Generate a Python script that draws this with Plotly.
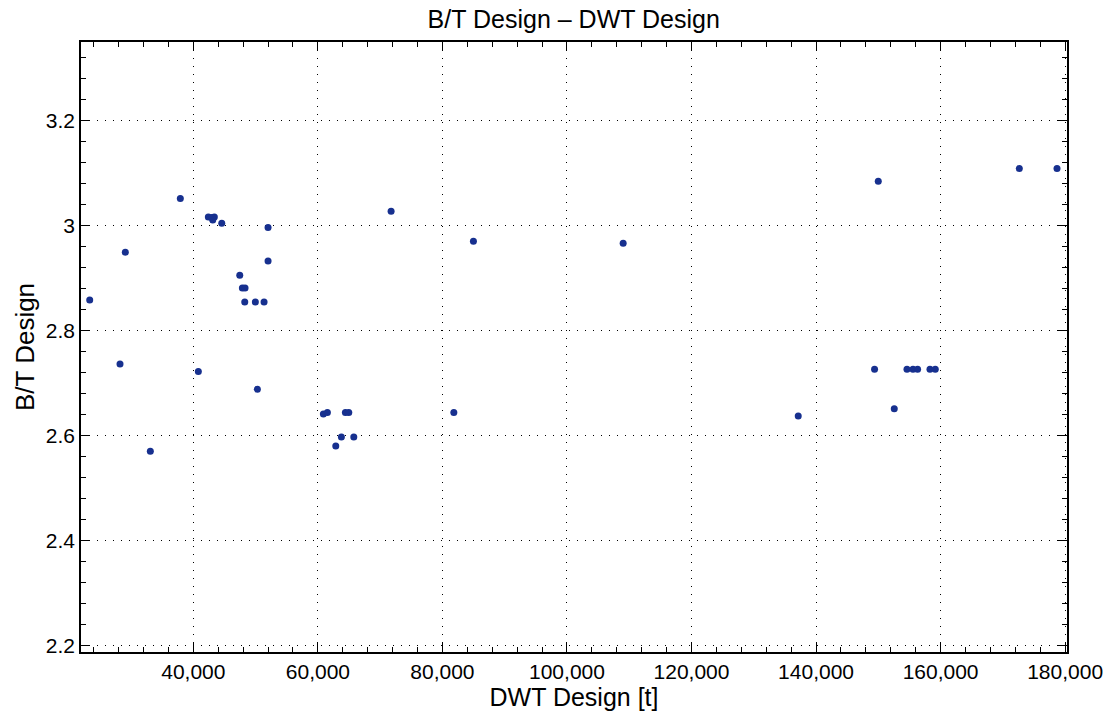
import plotly.graph_objects as go

dwt = [23358, 29077, 37912, 42410, 43373, 43117, 42956, 44562, 52000, 52000,
       47454, 47872, 48305, 48257, 49960, 51358,
       28225, 40803, 50281, 33093,
       60883, 61526, 64417, 64963, 63775, 65767, 62875, 81831,
       71759, 84979, 109026,
       149990, 137140, 149397, 154602, 155566, 156305, 158296, 159147, 152560,
       172641, 178697]
bt = [2.858, 2.949, 3.051, 3.016, 3.016, 3.010, 3.015, 3.004, 2.996, 2.932,
      2.905, 2.881, 2.881, 2.854, 2.854, 2.854,
      2.736, 2.722, 2.688, 2.570,
      2.641, 2.644, 2.644, 2.644, 2.597, 2.597, 2.580, 2.644,
      3.027, 2.970, 2.966,
      3.084, 2.637, 2.726, 2.726, 2.726, 2.726, 2.726, 2.726, 2.651,
      3.108, 3.108]

x_ticks = [40000, 60000, 80000, 100000, 120000, 140000, 160000, 180000]
y_ticks = [2.2, 2.4, 2.6, 2.8, 3.0, 3.2]

font = "Liberation Sans, Arial, Helvetica, sans-serif"

fig = go.Figure(go.Scatter(
    x=dwt, y=bt, mode="markers",
    marker=dict(color="#17308f", size=7, line=dict(width=0)),
    showlegend=False,
))

axis_common = dict(
    showline=True, linecolor="black", linewidth=1.5, mirror="allticks",
    ticks="inside", ticklen=9, tickwidth=1, tickcolor="black",
    showgrid=True, gridcolor="black", gridwidth=1, griddash="1px,7px",
    zeroline=False,
    tickfont=dict(family=font, size=21, color="black"),
)

fig.update_xaxes(
    **axis_common,
    range=[21960, 180300],
    tickvals=x_ticks, tickformat=",",
    minor=dict(ticks="inside", dtick=4000, tick0=0, ticklen=5, tickcolor="black", showgrid=False),
    title=dict(text="DWT Design [t]", font=dict(family=font, size=25, color="black"), standoff=4),
)
fig.update_yaxes(
    **axis_common,
    range=[2.188, 3.349],
    tickvals=y_ticks, ticktext=["2.2", "2.4", "2.6", "2.8", "3", "3.2"],
    minor=dict(ticks="inside", dtick=0.04, tick0=0, ticklen=5, tickcolor="black", showgrid=False),
    title=dict(text="B/T Design", font=dict(family=font, size=26, color="black"), standoff=4),
)

fig.update_layout(
    width=1114, height=715,
    margin=dict(l=81, r=47, t=42, b=63),
    paper_bgcolor="white", plot_bgcolor="white",
    title=dict(text="B/T Design – DWT Design", x=0.515, xanchor="center", y=0.973, yanchor="middle",
               font=dict(family=font, size=25, color="black")),
)

fig.write_html("out.html")
